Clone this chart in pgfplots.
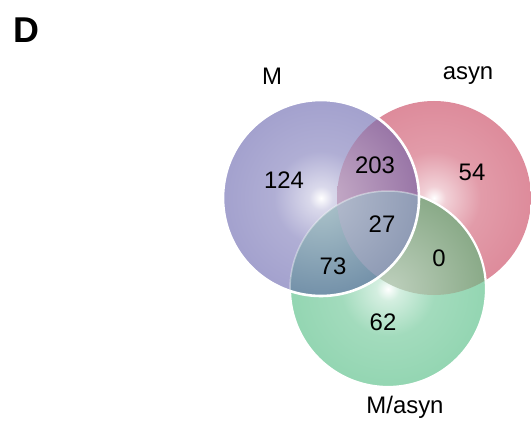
\documentclass[border=0pt]{standalone}
\usepackage{pgfplots}
\pgfplotsset{compat=1.18}
\usepackage{fontspec}
\setmainfont{Liberation Sans}

% set colours
\definecolor{mcol}{RGB}{162,160,205}
\definecolor{acol}{RGB}{221,138,154}
\definecolor{gcol}{RGB}{146,213,177}
\definecolor{macol}{RGB}{146,96,148}
\definecolor{mgcol}{RGB}{94,140,152}
\definecolor{agcol}{RGB}{124,160,122}
\definecolor{allcol}{RGB}{108,124,158}

% glow shadings: white core fading into the set colour
\pgfdeclareradialshading{mglow}{\pgfpoint{0bp}{0bp}}{%
  color(0bp)=(white); color(3bp)=(mcol!40!white); color(12bp)=(mcol!85!white);
  color(26bp)=(mcol); color(50bp)=(mcol!95!black)}
\pgfdeclareradialshading{aglow}{\pgfpoint{0bp}{0bp}}{%
  color(0bp)=(white); color(3bp)=(acol!40!white); color(12bp)=(acol!85!white);
  color(26bp)=(acol); color(50bp)=(acol!97!black)}
\pgfdeclareradialshading{gglow}{\pgfpoint{0bp}{0bp}}{%
  color(0bp)=(white); color(3bp)=(gcol!40!white); color(12bp)=(gcol!85!white);
  color(26bp)=(gcol); color(50bp)=(gcol!97!black)}
% overlap shadings, a little lighter towards the centre of the reference circle
\pgfdeclareradialshading{maglow}{\pgfpoint{0bp}{0bp}}{%
  color(0bp)=(macol!50!white); color(26bp)=(macol!70!mcol); color(34bp)=(macol); color(50bp)=(macol!92!black)}
\pgfdeclareradialshading{mgglow}{\pgfpoint{0bp}{0bp}}{%
  color(0bp)=(mgcol!50!white); color(24bp)=(mgcol!65!mcol); color(34bp)=(mgcol); color(50bp)=(mgcol!94!black)}
\pgfdeclareradialshading{agglow}{\pgfpoint{0bp}{0bp}}{%
  color(0bp)=(agcol!50!white); color(24bp)=(agcol!88!white); color(34bp)=(agcol); color(50bp)=(agcol!94!black)}
\pgfdeclareradialshading{allglow}{\pgfpoint{0bp}{0bp}}{%
  color(0bp)=(allcol!50!white); color(24bp)=(allcol!75!white); color(33bp)=(allcol); color(50bp)=(allcol!94!black)}

\begin{document}
\begin{tikzpicture}
\begin{axis}[
  scale only axis, width=531bp, height=421bp,
  xmin=0, xmax=531, ymin=0, ymax=421, y dir=reverse,
  hide axis, clip=false,
]
  % asyn
  \shade[shading=aglow] (axis cs:434,198) circle[radius=97];
  % M/asyn
  \shade[shading=gglow] (axis cs:388,289) circle[radius=98];
  % asyn & M/asyn only
  \begin{scope}
    \clip (axis cs:434,198) circle[radius=97];
    \shade[shading=agglow] (axis cs:388,289) circle[radius=98];
  \end{scope}
  \draw[white, line width=2.2bp] (axis cs:388,289) circle[radius=98];

  % M
  \shade[shading=mglow] (axis cs:321,198) circle[radius=98];
  \begin{scope}
    \clip (axis cs:434,198) circle[radius=97];
    \shade[shading=maglow] (axis cs:321,198) circle[radius=98];
  \end{scope}
  \begin{scope}
    \clip (axis cs:388,289) circle[radius=98];
    \shade[shading=mgglow] (axis cs:321,198) circle[radius=98];
  \end{scope}
  \begin{scope}
    \clip (axis cs:434,198) circle[radius=97];
    \clip (axis cs:388,289) circle[radius=98];
    \shade[shading=allglow] (axis cs:321,198) circle[radius=98];
  \end{scope}
  \begin{scope}
    \clip (axis cs:321,198) circle[radius=98];
    \draw[white, opacity=0.4, line width=1.5bp] (axis cs:388,289) circle[radius=98];
  \end{scope}
  \draw[white, line width=2.6bp] (axis cs:321,198) circle[radius=98];

  % set names
  \node[font=\fontsize{24}{28}\selectfont] at (axis cs:272,76) {M};
  \node[font=\fontsize{24}{28}\selectfont] at (axis cs:468,76) {asyn};
  \node[font=\fontsize{24}{28}\selectfont] at (axis cs:405,407) {M/asyn};

  % counts
  \node[font=\fontsize{24}{28}\selectfont] at (axis cs:284,180) {124};
  \node[font=\fontsize{24}{28}\selectfont] at (axis cs:375,165) {203};
  \node[font=\fontsize{24}{28}\selectfont] at (axis cs:472,172) {54};
  \node[font=\fontsize{24}{28}\selectfont] at (axis cs:382,224) {27};
  \node[font=\fontsize{24}{28}\selectfont] at (axis cs:333,266) {73};
  \node[font=\fontsize{24}{28}\selectfont] at (axis cs:439,258) {0};
  \node[font=\fontsize{24}{28}\selectfont] at (axis cs:383,322) {62};

  \node[font=\bfseries\fontsize{36}{40}\selectfont] at (axis cs:26,30) {D};
\end{axis}
\pgfresetboundingbox
\path (current axis.south west) rectangle (current axis.north east);
\end{tikzpicture}
\end{document}
